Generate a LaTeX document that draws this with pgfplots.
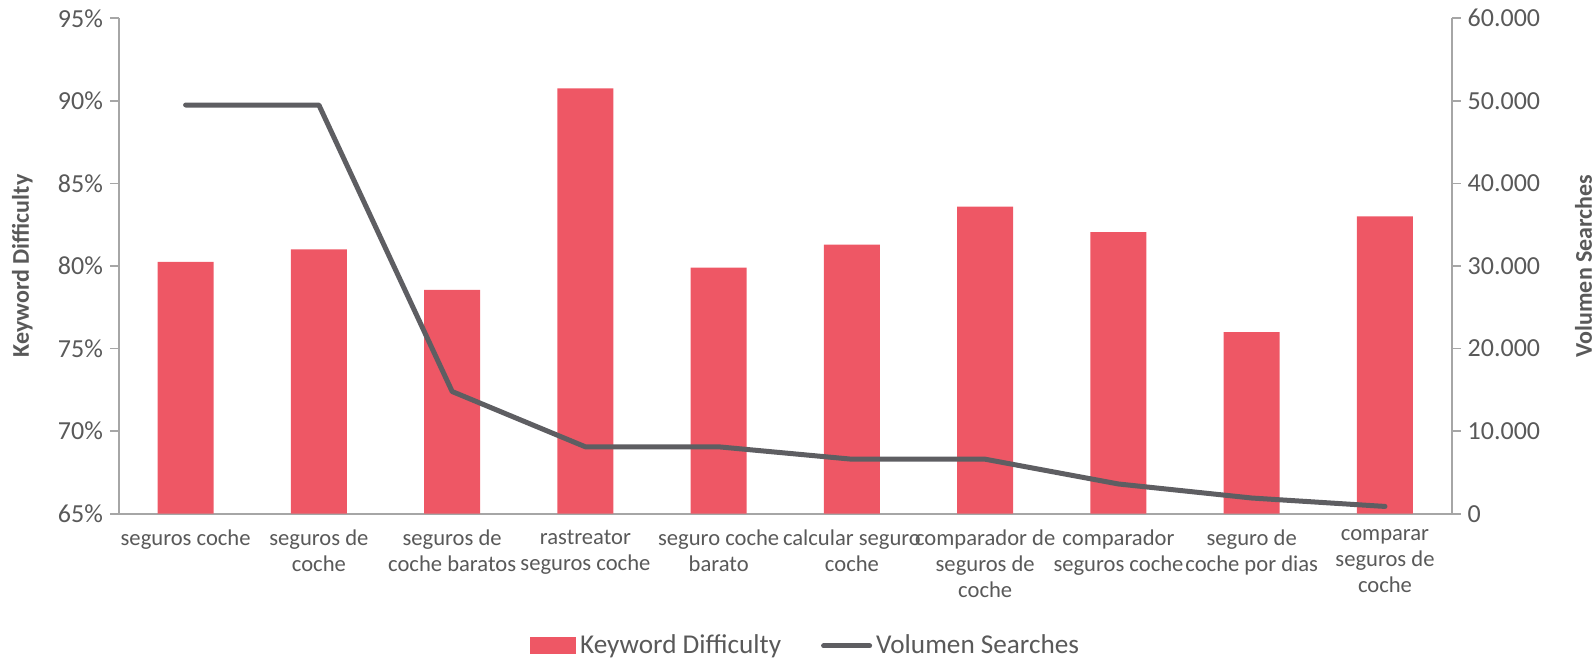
\documentclass[border=0pt]{standalone}
\usepackage{fontspec}
\setmainfont{Carlito}
\usepackage{pgfplots}
\pgfplotsset{compat=1.18}
\definecolor{barred}{RGB}{238,87,101}
\definecolor{linegray}{RGB}{94,94,98}
\definecolor{axgray}{RGB}{166,166,166}
\definecolor{txtgray}{RGB}{89,89,89}
\begin{document}
\begin{tikzpicture}
\useasboundingbox (-59.5pt,-73.65pt) rectangle (738pt,256.85pt);
\begin{axis}[
  at={(0pt,0pt)}, anchor=south west,
  scale only axis, width=666.3pt, height=247.7pt,
  xmin=-0.5, xmax=9.5, ymin=65, ymax=95,
  axis x line*=bottom, axis y line*=left,
  axis line style={axgray, line width=0.9pt},
  xtick={0,...,9},
  xticklabels={{seguros coche},{seguros de\\coche},{seguros de\\coche baratos},{rastreator\\seguros coche},{seguro coche\\barato},{calcular seguro\\coche},{comparador de\\seguros de\\coche},{comparador\\seguros coche},{seguro de\\coche por dias},{comparar\\seguros de\\coche}},
  x tick style={draw=none},
  ytick={65,70,...,95},
  yticklabels={65\%,70\%,75\%,80\%,85\%,90\%,95\%},
  y tick style={axgray, line width=0.9pt},
  tick align=outside, major tick length=4.5pt,
  yticklabel style={font=\fontsize{13}{15}\selectfont, text=txtgray},
  xticklabel style={font=\fontsize{11.3}{13}\selectfont, text=txtgray, align=center},
  ylabel={Keyword Difficulty},
  ylabel style={font=\bfseries\fontsize{12}{14}\selectfont, text=txtgray, at={(axis description cs:-0.0725,0.5)}, anchor=center},
  legend style={at={(axis description cs:0.516,-0.267)}, anchor=center, draw=none, fill=none,
    legend columns=2, font=\fontsize{13.6}{15}\selectfont, text=txtgray,
    /tikz/every even column/.append style={column sep=18pt}},
]
\addplot[ybar, bar width=28pt, bar shift=0pt, fill=barred, draw=none,
  legend image code/.code={\fill[barred] (0pt,-4.25pt) rectangle (23pt,4.25pt);}]
  coordinates {(0,80.25) (1,81.0) (2,78.55) (3,90.75) (4,79.9) (5,81.3) (6,83.6) (7,82.05) (8,76.0) (9,83.0)};
\addlegendentry{Keyword Difficulty}
\addlegendimage{legend image code/.code={\draw[linegray, line width=2.5pt, line cap=round] (0pt,0pt) -- (23pt,0pt);}}
\addlegendentry{Volumen Searches}
\end{axis}
\begin{axis}[
  at={(0pt,0pt)}, anchor=south west,
  scale only axis, width=666.3pt, height=247.7pt,
  xmin=-0.5, xmax=9.5, ymin=0, ymax=60000,
  axis x line=none, axis y line*=right,
  axis line style={axgray, line width=0.9pt},
  scaled y ticks=false,
  ytick={0,10000,...,60000},
  yticklabels={0,10.000,20.000,30.000,40.000,50.000,60.000},
  y tick style={axgray, line width=0.9pt},
  tick align=outside, major tick length=4.5pt,
  yticklabel style={font=\fontsize{13}{15}\selectfont, text=txtgray},
  ylabel={Volumen Searches},
  ylabel style={font=\bfseries\fontsize{12}{14}\selectfont, text=txtgray, at={(axis description cs:1.099,0.5)}, anchor=center},
]
\addplot[linegray, line width=2.5pt, line cap=round, line join=round]
  coordinates {(0,49500) (1,49500) (2,14800) (3,8100) (4,8100) (5,6600) (6,6600) (7,3600) (8,1900) (9,880)};
\end{axis}
\end{tikzpicture}
\end{document}
